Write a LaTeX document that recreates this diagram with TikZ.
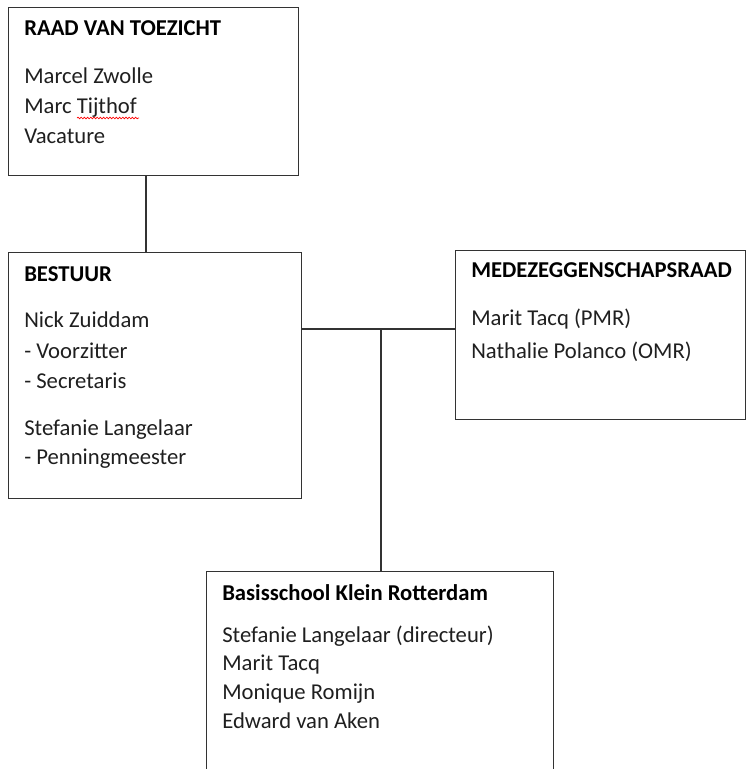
\documentclass[tikz,border=0pt]{standalone}
\usepackage{fontspec}
\setmainfont{Carlito}
\usetikzlibrary{positioning,decorations.pathmorphing}
\tikzset{
  orgbox/.style={draw=black!80, line width=1pt, anchor=north west, inner sep=0pt},
  boxtitle/.style={anchor=base west, inner sep=0pt, font=\fontsize{17}{20}\selectfont\bfseries},
  boxline/.style={anchor=base west, inner sep=0pt, text=black!88, font=\fontsize{17}{20}\selectfont},
  link/.style={draw=black!80, line width=1pt}
}

\begin{document}
\begin{tikzpicture}[x=0.75pt, y=-0.75pt]
			%%%%% START %%%%%
			\useasboundingbox (0, 0) rectangle (746, 769);
			
			% raad van toezicht
			\node[orgbox, minimum width=217.5pt, minimum height=126pt] (rvt) at (8, 7) {};
			\node[boxtitle] (rvt-title) at (24, 35) {RAAD VAN TOEZICHT};
			\node[boxline] (rvt-a) at (24, 83) {Marcel Zwolle};
			\node[boxline] (rvt-b) at (24, 113) {Marc Tijthof};
			\node[boxline] (rvt-c) at (24, 143) {Vacature};
			\draw[red, line width=0.5pt, decorate, decoration={snake, amplitude=0.6pt, segment length=2.4pt}] (77, 118) -- (139, 118);
			
			% bestuur
			\node[orgbox, minimum width=219.75pt, minimum height=184.5pt] (bestuur) at (8, 252) {};
			\node[boxtitle] (bestuur-title) at (24, 281) {BESTUUR};
			\node[boxline] (bestuur-a) at (24, 327) {Nick Zuiddam};
			\node[boxline] (bestuur-b) at (24, 358) {- Voorzitter};
			\node[boxline] (bestuur-c) at (24, 388) {- Secretaris};
			\node[boxline] (bestuur-d) at (24, 435) {Stefanie Langelaar};
			\node[boxline] (bestuur-e) at (24, 464) {- Penningmeester};
			
			% medezeggenschapsraad
			\node[orgbox, minimum width=217.5pt, minimum height=126.75pt] (mr) at (455, 250) {};
			\node[boxtitle] (mr-title) at (471, 277) {MEDEZEGGENSCHAPSRAAD};
			\node[boxline] (mr-a) at (471, 325) {Marit Tacq (PMR)};
			\node[boxline] (mr-b) at (471, 358) {Nathalie Polanco (OMR)};
			
			% school
			\node[orgbox, minimum width=260.25pt, minimum height=157.5pt] (school) at (206, 571) {};
			\node[boxtitle] (school-title) at (222, 600) {Basisschool Klein Rotterdam};
			\node[boxline] (school-a) at (222, 642) {Stefanie Langelaar (directeur)};
			\node[boxline] (school-b) at (222, 670) {Marit Tacq};
			\node[boxline] (school-c) at (222, 699) {Monique Romijn};
			\node[boxline] (school-d) at (222, 728) {Edward van Aken};
			
			% lijnen
			\coordinate (top-link) at (146, 0);
			\coordinate (split) at (381, 329);
			\draw[link] (rvt.south -| top-link) -- (bestuur.north -| top-link);
			\draw[link] (bestuur.east |- split) -- (mr.west |- split);
			\draw[link] (split) -- (school.north -| split);
			
			%%%%% END %%%%%
\end{tikzpicture}
\end{document}
